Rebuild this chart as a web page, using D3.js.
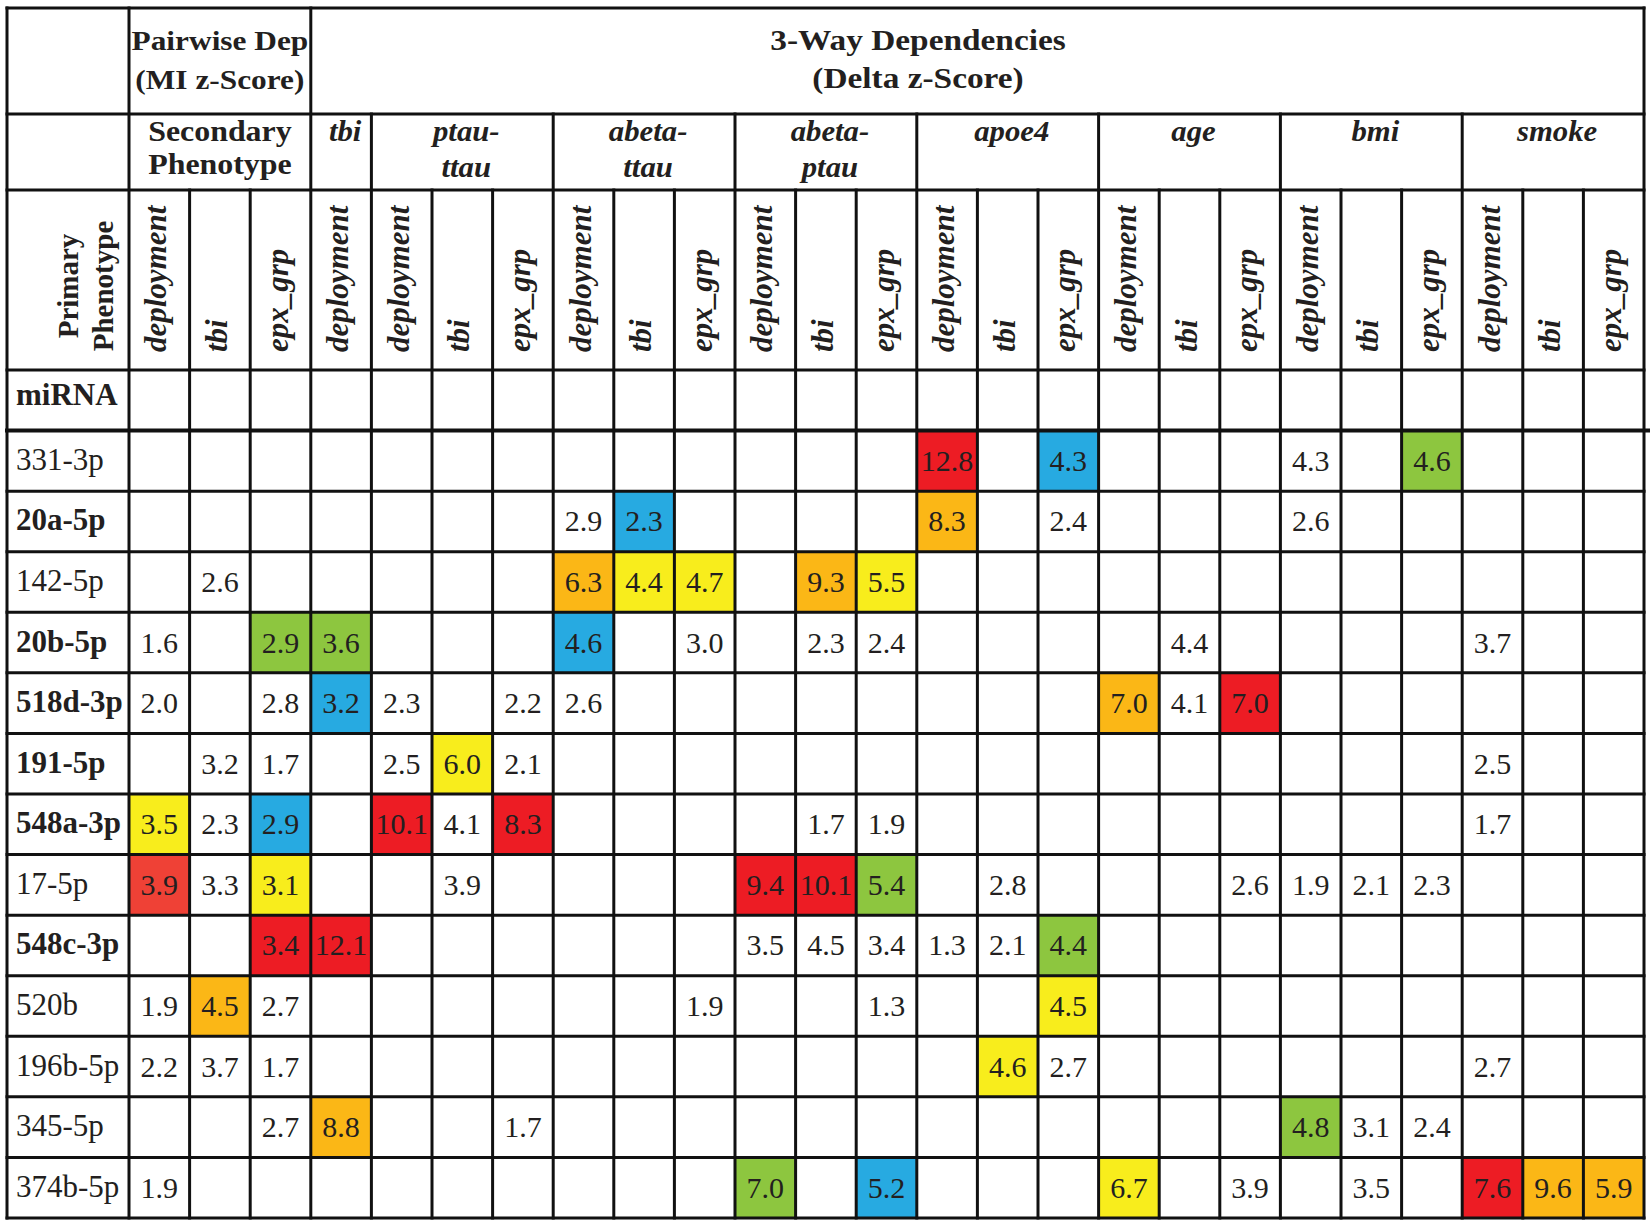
<!DOCTYPE html>
<html>
<head>
<meta charset="utf-8">
<script src="https://cdn.jsdelivr.net/npm/d3@7"></script>
<style>
  body { margin: 0; background: #fff; }
  text { font-family: "Liberation Serif", "Times New Roman", serif; fill: #231f20; }
</style>
</head>
<body>
<script>
// table data
var groupKeys = ["secondary", "tbi", "ptau-ttau", "abeta-ttau", "abeta-ptau", "apoe4", "age", "bmi", "smoke"];
var groupLabels = [["Secondary", "Phenotype"], ["tbi"], ["ptau-", "ttau"], ["abeta-", "ttau"], ["abeta-", "ptau"], ["apoe4"], ["age"], ["bmi"], ["smoke"]];
var subPhenotypes = ["deployment", "tbi", "epx_grp"];
var miRNAs = ["331-3p", "20a-5p", "142-5p", "20b-5p", "518d-3p", "191-5p", "548a-3p", "17-5p",
              "548c-3p", "520b", "196b-5p", "345-5p", "374b-5p"];
var boldMiRNAs = ["20a-5p", "20b-5p", "518d-3p", "191-5p", "548a-3p", "548c-3p"];

// each cell: miRNA, group, sub phenotype, z-score, highlight (or null)
var cells = [
  ["331-3p", "apoe4", "deployment", 12.8, "red"],
  ["331-3p", "apoe4", "epx_grp", 4.3, "blue"],
  ["331-3p", "bmi", "deployment", 4.3, null],
  ["331-3p", "bmi", "epx_grp", 4.6, "green"],

  ["20a-5p", "abeta-ttau", "deployment", 2.9, null],
  ["20a-5p", "abeta-ttau", "tbi", 2.3, "blue"],
  ["20a-5p", "apoe4", "deployment", 8.3, "orange"],
  ["20a-5p", "apoe4", "epx_grp", 2.4, null],
  ["20a-5p", "bmi", "deployment", 2.6, null],

  ["142-5p", "secondary", "tbi", 2.6, null],
  ["142-5p", "abeta-ttau", "deployment", 6.3, "orange"],
  ["142-5p", "abeta-ttau", "tbi", 4.4, "yellow"],
  ["142-5p", "abeta-ttau", "epx_grp", 4.7, "yellow"],
  ["142-5p", "abeta-ptau", "tbi", 9.3, "orange"],
  ["142-5p", "abeta-ptau", "epx_grp", 5.5, "yellow"],

  ["20b-5p", "secondary", "deployment", 1.6, null],
  ["20b-5p", "secondary", "epx_grp", 2.9, "green"],
  ["20b-5p", "tbi", "deployment", 3.6, "green"],
  ["20b-5p", "abeta-ttau", "deployment", 4.6, "blue"],
  ["20b-5p", "abeta-ttau", "epx_grp", 3.0, null],
  ["20b-5p", "abeta-ptau", "tbi", 2.3, null],
  ["20b-5p", "abeta-ptau", "epx_grp", 2.4, null],
  ["20b-5p", "age", "tbi", 4.4, null],
  ["20b-5p", "smoke", "deployment", 3.7, null],

  ["518d-3p", "secondary", "deployment", 2.0, null],
  ["518d-3p", "secondary", "epx_grp", 2.8, null],
  ["518d-3p", "tbi", "deployment", 3.2, "blue"],
  ["518d-3p", "ptau-ttau", "deployment", 2.3, null],
  ["518d-3p", "ptau-ttau", "epx_grp", 2.2, null],
  ["518d-3p", "abeta-ttau", "deployment", 2.6, null],
  ["518d-3p", "age", "deployment", 7.0, "orange"],
  ["518d-3p", "age", "tbi", 4.1, null],
  ["518d-3p", "age", "epx_grp", 7.0, "red"],

  ["191-5p", "secondary", "tbi", 3.2, null],
  ["191-5p", "secondary", "epx_grp", 1.7, null],
  ["191-5p", "ptau-ttau", "deployment", 2.5, null],
  ["191-5p", "ptau-ttau", "tbi", 6.0, "yellow"],
  ["191-5p", "ptau-ttau", "epx_grp", 2.1, null],
  ["191-5p", "smoke", "deployment", 2.5, null],

  ["548a-3p", "secondary", "deployment", 3.5, "yellow"],
  ["548a-3p", "secondary", "tbi", 2.3, null],
  ["548a-3p", "secondary", "epx_grp", 2.9, "blue"],
  ["548a-3p", "ptau-ttau", "deployment", 10.1, "red"],
  ["548a-3p", "ptau-ttau", "tbi", 4.1, null],
  ["548a-3p", "ptau-ttau", "epx_grp", 8.3, "red"],
  ["548a-3p", "abeta-ptau", "tbi", 1.7, null],
  ["548a-3p", "abeta-ptau", "epx_grp", 1.9, null],
  ["548a-3p", "smoke", "deployment", 1.7, null],

  ["17-5p", "secondary", "deployment", 3.9, "lightred"],
  ["17-5p", "secondary", "tbi", 3.3, null],
  ["17-5p", "secondary", "epx_grp", 3.1, "yellow"],
  ["17-5p", "ptau-ttau", "tbi", 3.9, null],
  ["17-5p", "abeta-ptau", "deployment", 9.4, "red"],
  ["17-5p", "abeta-ptau", "tbi", 10.1, "red"],
  ["17-5p", "abeta-ptau", "epx_grp", 5.4, "green"],
  ["17-5p", "apoe4", "tbi", 2.8, null],
  ["17-5p", "age", "epx_grp", 2.6, null],
  ["17-5p", "bmi", "deployment", 1.9, null],
  ["17-5p", "bmi", "tbi", 2.1, null],
  ["17-5p", "bmi", "epx_grp", 2.3, null],

  ["548c-3p", "secondary", "epx_grp", 3.4, "red"],
  ["548c-3p", "tbi", "deployment", 12.1, "red"],
  ["548c-3p", "abeta-ptau", "deployment", 3.5, null],
  ["548c-3p", "abeta-ptau", "tbi", 4.5, null],
  ["548c-3p", "abeta-ptau", "epx_grp", 3.4, null],
  ["548c-3p", "apoe4", "deployment", 1.3, null],
  ["548c-3p", "apoe4", "tbi", 2.1, null],
  ["548c-3p", "apoe4", "epx_grp", 4.4, "green"],

  ["520b", "secondary", "deployment", 1.9, null],
  ["520b", "secondary", "tbi", 4.5, "orange"],
  ["520b", "secondary", "epx_grp", 2.7, null],
  ["520b", "abeta-ttau", "epx_grp", 1.9, null],
  ["520b", "abeta-ptau", "epx_grp", 1.3, null],
  ["520b", "apoe4", "epx_grp", 4.5, "yellow"],

  ["196b-5p", "secondary", "deployment", 2.2, null],
  ["196b-5p", "secondary", "tbi", 3.7, null],
  ["196b-5p", "secondary", "epx_grp", 1.7, null],
  ["196b-5p", "apoe4", "tbi", 4.6, "yellow"],
  ["196b-5p", "apoe4", "epx_grp", 2.7, null],
  ["196b-5p", "smoke", "deployment", 2.7, null],

  ["345-5p", "secondary", "epx_grp", 2.7, null],
  ["345-5p", "tbi", "deployment", 8.8, "orange"],
  ["345-5p", "ptau-ttau", "epx_grp", 1.7, null],
  ["345-5p", "bmi", "deployment", 4.8, "green"],
  ["345-5p", "bmi", "tbi", 3.1, null],
  ["345-5p", "bmi", "epx_grp", 2.4, null],

  ["374b-5p", "secondary", "deployment", 1.9, null],
  ["374b-5p", "abeta-ptau", "deployment", 7.0, "green"],
  ["374b-5p", "abeta-ptau", "epx_grp", 5.2, "blue"],
  ["374b-5p", "age", "deployment", 6.7, "yellow"],
  ["374b-5p", "age", "epx_grp", 3.9, null],
  ["374b-5p", "bmi", "tbi", 3.5, null],
  ["374b-5p", "smoke", "deployment", 7.6, "red"],
  ["374b-5p", "smoke", "tbi", 9.6, "orange"],
  ["374b-5p", "smoke", "epx_grp", 5.9, "orange"]
];

var highlightColor = {
  red: "#ed1c24", lightred: "#ef4136", orange: "#fbb716",
  yellow: "#f8ed1c", blue: "#27aae1", green: "#8dc63f"
};

var svgWidth = 1650, svgHeight = 1227;
var left = 7, labelRight = 129, right = 1644;
var headTop = 8, head2 = 114, head3 = 190, bodyTop = 370, bottom = 1218;

// build column keys - tbi group only has the deployment column
var columns = [];
groupKeys.forEach(function(g) {
  var subs = (g == "tbi") ? ["deployment"] : subPhenotypes;
  subs.forEach(function(s) { columns.push({ group: g, sub: s, key: g + "|" + s }); });
});

var x = d3.scaleBand().domain(columns.map(function(c) { return c.key; })).range([labelRight, right]);
var y = d3.scaleBand().domain(["miRNA"].concat(miRNAs)).range([bodyTop, bottom]);
var fmt = d3.format(".1f");

var svg = d3.select("body").append("svg")
            .attr("width", svgWidth)
            .attr("height", svgHeight);

//coloured cells first so the grid sits over them
svg.selectAll("rect.cell")
   .data(cells.filter(function(d) { return d[4]; }))
   .enter().append("rect")
   .attr("class", "cell")
   .attr("x", function(d) { return x(d[1] + "|" + d[2]); })
   .attr("y", function(d) { return y(d[0]); })
   .attr("width", x.bandwidth())
   .attr("height", y.bandwidth())
   .attr("fill", function(d) { return highlightColor[d[4]]; });

svg.selectAll("text.val")
   .data(cells)
   .enter().append("text")
   .attr("class", "val")
   .attr("x", function(d) { return x(d[1] + "|" + d[2]) + x.bandwidth() / 2; })
   .attr("y", function(d) { return y(d[0]) + y.bandwidth() / 2 + 10; })
   .attr("text-anchor", "middle")
   .style("font-size", "30px")
   .text(function(d) { return fmt(d[3]); });

// row labels
svg.selectAll("text.rowlab")
   .data(miRNAs)
   .enter().append("text")
   .attr("class", "rowlab")
   .attr("x", 16)
   .attr("y", function(d) { return y(d) + y.bandwidth() / 2 + 9; })
   .style("font-size", "31px")
   .style("font-weight", function(d) { return boldMiRNAs.indexOf(d) >= 0 ? "bold" : "normal"; })
   .text(function(d) { return d; });

svg.append("text")
   .attr("x", 16).attr("y", y("miRNA") + 35)
   .style("font-size", "31px").style("font-weight", "bold")
   .text("miRNA");

// top header
function stretchedText(lines, cx, baselines, size, sx, italic) {
  lines.forEach(function(t, i) {
    svg.append("text")
       .attr("transform", "translate(" + cx + "," + baselines[i] + ") scale(" + sx + ",1)")
       .attr("text-anchor", "middle")
       .style("font-size", size + "px")
       .style("font-weight", "bold")
       .style("font-style", italic ? "italic" : "normal")
       .text(t);
  });
}
var secX = x("secondary|deployment"), secEnd = x("secondary|epx_grp") + x.bandwidth();
stretchedText(["Pairwise Dep", "(MI z-Score)"], (secX + secEnd) / 2, [50, 89], 28, 1.12, false);
stretchedText(["3-Way Dependencies", "(Delta z-Score)"], 918, [50, 88], 29, 1.15, false);

// group headers
var groupBounds = groupKeys.map(function(g) {
  var cs = columns.filter(function(c) { return c.group == g; });
  return { key: g, x0: x(cs[0].key), x1: x(cs[cs.length - 1].key) + x.bandwidth() };
});
groupBounds.forEach(function(b, i) {
  var lab = groupLabels[i];
  if (b.key == "secondary") stretchedText(lab, (b.x0 + b.x1) / 2, [141, 174], 29, 1.1, false);
  else stretchedText(lab, (b.x0 + b.x1) / 2 + 4, [141, 177], 29, 1.06, true);
});

// rotated column labels
svg.selectAll("text.colhead")
   .data(columns)
   .enter().append("text")
   .attr("class", "colhead")
   .attr("transform", function(d) { return "translate(" + (x(d.key) + x.bandwidth() / 2 + 7) + "," + 352 + ") rotate(-90)"; })
   .style("font-size", "31px")
   .style("font-weight", "bold")
   .style("font-style", "italic")
   .text(function(d) { return d.sub; });

// Primary Phenotype label
["Primary", "Phenotype"].forEach(function(t, i) {
  svg.append("text")
     .attr("transform", "translate(" + [78, 113][i] + ",286) rotate(-90)")
     .attr("text-anchor", "middle")
     .style("font-size", "29px")
     .style("font-weight", "bold")
     .text(t);
});

// grid
var grid = svg.append("g").attr("stroke", "#111").attr("stroke-width", 3).attr("stroke-linecap", "square");
var hLines = [headTop, head2, head3].concat(y.domain().map(function(r) { return y(r); })).concat([bottom]);
grid.selectAll("line.h")
    .data(hLines)
    .enter().append("line")
    .attr("x1", left).attr("x2", right)
    .attr("y1", function(d) { return d; }).attr("y2", function(d) { return d; });

// the line under the miRNA row is heavier and runs past the edge
grid.append("line")
    .attr("x1", left).attr("x2", 1649)
    .attr("y1", y(miRNAs[0])).attr("y2", y(miRNAs[0]))
    .attr("stroke-width", 4);

var vLines = [{ x: left, top: headTop }, { x: labelRight, top: headTop }, { x: right, top: headTop }];
groupBounds.forEach(function(b, i) {
  if (i > 0) vLines.push({ x: b.x0, top: b.key == "tbi" ? headTop : head2 });
});
columns.forEach(function(c) {
  if (c.sub != "deployment") vLines.push({ x: x(c.key), top: head3 });
});
grid.selectAll("line.v")
    .data(vLines)
    .enter().append("line")
    .attr("x1", function(d) { return d.x; }).attr("x2", function(d) { return d.x; })
    .attr("y1", function(d) { return d.top; }).attr("y2", bottom);
</script>
</body>
</html>
